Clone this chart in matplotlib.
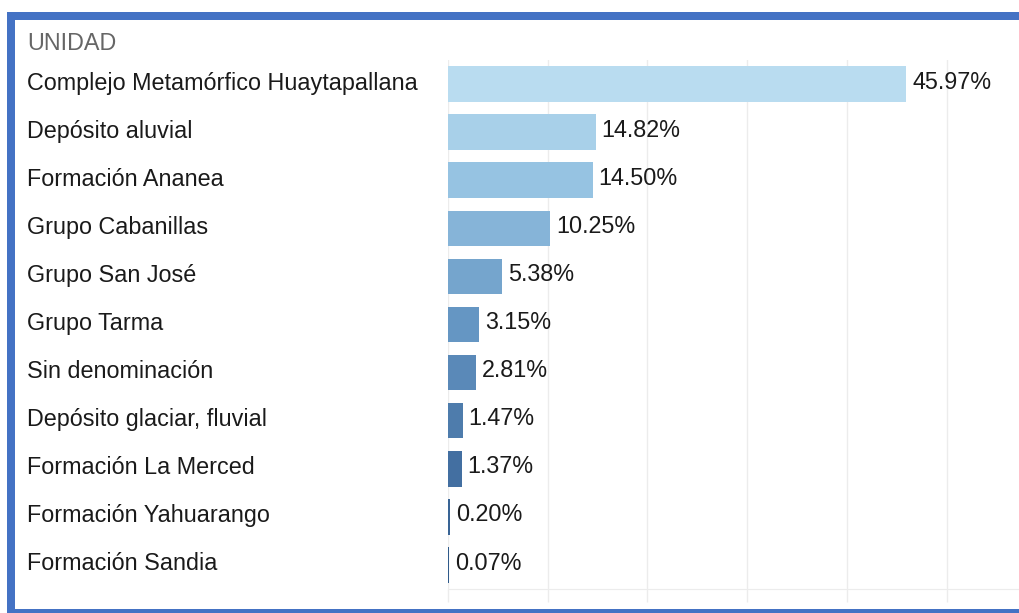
import matplotlib
matplotlib.use("Agg")
import matplotlib.pyplot as plt
import numpy as np
from matplotlib.colors import LinearSegmentedColormap
from matplotlib.patches import Rectangle

plt.rcParams["font.family"] = ["Liberation Sans", "DejaVu Sans"]

unidades = [
    "Complejo Metamórfico Huaytapallana",
    "Depósito aluvial",
    "Formación Ananea",
    "Grupo Cabanillas",
    "Grupo San José",
    "Grupo Tarma",
    "Sin denominación",
    "Depósito glaciar, fluvial",
    "Formación La Merced",
    "Formación Yahuarango",
    "Formación Sandia",
]
porcentaje = [45.97, 14.82, 14.50, 10.25, 5.38, 3.15, 2.81, 1.47, 1.37, 0.20, 0.07]

W, H = 1019, 613
fig = plt.figure(figsize=(W / 100, H / 100), dpi=100)

# marco azul (arriba, izquierda, abajo)
azul = "#4472c4"
fig.add_artist(Rectangle((7 / W, 1 - 20 / H), 1 - 7 / W, 8 / H, transform=fig.transFigure,
                         color=azul, lw=0))
fig.add_artist(Rectangle((7 / W, 0), 8 / W, 1 - 12 / H, transform=fig.transFigure,
                         color=azul, lw=0))
fig.add_artist(Rectangle((7 / W, 0), 1 - 7 / W, 4 / H, transform=fig.transFigure,
                         color=azul, lw=0))

# área de barras
x0, x1 = 448, W
y_top, y_bot = 60, 589
ax = fig.add_axes([x0 / W, 1 - y_bot / H, (x1 - x0) / W, (y_bot - y_top) / H])

n = len(unidades)
y = np.arange(n)
cmap = LinearSegmentedColormap.from_list(
    "azules",
    [(0.0, "#b9dcf0"), (0.2, "#96c3e2"), (0.5, "#6596c3"), (0.8, "#436fa1"), (1.0, "#2f5a8a")])
colores = [cmap(i / (n - 1)) for i in range(n)]

fs = 16.8
ax.barh(y, porcentaje, height=0.74, color=colores, zorder=2)
for yi, v in zip(y, porcentaje):
    ax.text(v + 0.6, yi - 0.04, f"{v:.2f}%", va="center", ha="left",
            fontsize=fs, color="#1a1a1a")

ax.set_ylim(n - 0.5, -0.5)
ax.set_xlim(0, (x1 - x0) / 9.97)
ax.set_xticks(np.arange(0, 60, 10))
ax.set_xticklabels([])
ax.set_yticks([])
ax.grid(axis="x", color="#ececec", lw=1, zorder=0)
ax.tick_params(axis="x", length=9, color="#ececec", width=1)
for s in ["top", "right", "left"]:
    ax.spines[s].set_visible(False)
ax.spines["bottom"].set_color("#ececec")

# etiquetas de categoría
fig.text(27 / W, 1 - 44 / H, "UNIDAD", fontsize=fs, color="#666666", va="center", ha="left")
for yi, nombre in zip(y, unidades):
    yc = y_top + (yi + 0.5) * (y_bot - y_top) / n
    fig.text(27 / W, 1 - (yc - 1) / H, nombre, fontsize=fs, color="#1a1a1a",
             va="center", ha="left")

fig.savefig("out.png", dpi=100)
